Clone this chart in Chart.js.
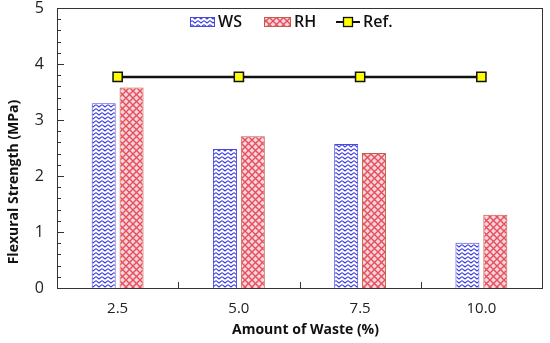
<!DOCTYPE html>
<html>
<head>
<meta charset="utf-8">
<script src="https://cdn.jsdelivr.net/npm/chart.js@4.4.0/dist/chart.umd.min.js"></script>
<style>
  html, body { margin: 0; padding: 0; background: #fff; }
  #wrap { width: 550px; height: 343px; }
</style>
</head>
<body>
<div id="wrap"><canvas id="flexChart" width="550" height="343"></canvas></div>
<script>
// data
const wasteLabels = ['2.5', '5.0', '7.5', '10.0'];
const wsValues = [3.30, 2.48, 2.57, 0.81];
const rhValues = [3.58, 2.71, 2.41, 1.31];
const refValues = [3.77, 3.77, 3.77, 3.77];
const yTicks = [0, 1, 2, 3, 4, 5];

const FONT = '"Open Sans", "Noto Sans", sans-serif';

// hatch patterns
function makeWavePattern() {
    const c = document.createElement('canvas');
    c.width = 6; c.height = 4;
    const g = c.getContext('2d');
    g.fillStyle = '#ffffff';
    g.fillRect(0, 0, 6, 4);
    g.strokeStyle = '#3d3ddc';
    g.lineWidth = 1.2;
    g.beginPath();
    g.moveTo(0, 0.6); g.lineTo(3, 3); g.lineTo(6, 0.6);
    g.stroke();
    return g.createPattern(c, 'repeat');
}
function makeCrossPattern() {
    const c = document.createElement('canvas');
    c.width = 7; c.height = 7;
    const g = c.getContext('2d');
    g.fillStyle = '#ffd3da';
    g.fillRect(0, 0, 7, 7);
    g.strokeStyle = '#e0505f';
    g.lineWidth = 1.4;
    g.beginPath();
    g.moveTo(0, 0); g.lineTo(7, 7);
    g.moveTo(7, 0); g.lineTo(0, 7);
    g.stroke();
    return g.createPattern(c, 'repeat');
}
const wavePattern = makeWavePattern();
const crossPattern = makeCrossPattern();

// frame, inside ticks, titles and legend
const decorations = {
    id: 'decorations',
    afterDraw(chart) {
        const ctx = chart.ctx;
        const a = chart.chartArea;
        const xs = chart.scales.x, ys = chart.scales.y;
        ctx.save();
        ctx.strokeStyle = '#333';
        ctx.lineWidth = 1;
        ctx.strokeRect(a.left + 0.5, a.top + 0.5, a.right - a.left, a.bottom - a.top);

        // y ticks pointing in
        ctx.beginPath();
        for (let v = 0; v <= 5.0001; v += 0.2) {
            const y = Math.round(ys.getPixelForValue(v)) + 0.5;
            const major = Math.abs(v - Math.round(v)) < 0.01;
            ctx.moveTo(a.left, y);
            ctx.lineTo(a.left + (major ? 7 : 4), y);
        }
        // x ticks at category boundaries
        const half = (xs.getPixelForValue(1) - xs.getPixelForValue(0)) / 2;
        for (let i = 0; i < wasteLabels.length - 1; i++) {
            const x = Math.round(xs.getPixelForValue(i) + half) + 0.5;
            ctx.moveTo(x, a.bottom);
            ctx.lineTo(x, a.bottom - 6);
        }
        ctx.stroke();

        // axis titles
        ctx.fillStyle = '#111';
        ctx.font = 'bold 14px ' + FONT;
        ctx.textAlign = 'center';
        ctx.textBaseline = 'middle';
        ctx.fillText('Amount of Waste (%)', (a.left + a.right) / 2 + 6, 330);
        ctx.save();
        ctx.translate(14, 182);
        ctx.rotate(-Math.PI / 2);
        ctx.fillText('Flexural Strength (MPa)', 0, 0);
        ctx.restore();

        // legend
        const ly = 22;
        ctx.font = '600 16px ' + FONT;
        ctx.textAlign = 'left';
        ctx.fillStyle = wavePattern;
        ctx.fillRect(190, 17, 24, 9);
        ctx.lineWidth = 1;
        ctx.strokeStyle = '#4a4ae0';
        ctx.strokeRect(190.5, 17.5, 24, 9);
        ctx.fillStyle = crossPattern;
        ctx.fillRect(264, 17, 26, 9);
        ctx.strokeStyle = '#c0604a';
        ctx.strokeRect(264.5, 17.5, 26, 9);
        ctx.strokeStyle = '#111';
        ctx.lineWidth = 2;
        ctx.beginPath();
        ctx.moveTo(336, ly); ctx.lineTo(360, ly);
        ctx.stroke();
        ctx.fillStyle = '#ffff00';
        ctx.fillRect(343.5, ly - 4.5, 9, 9);
        ctx.lineWidth = 1.3;
        ctx.strokeRect(343.5, ly - 4.5, 9, 9);
        ctx.fillStyle = '#111';
        ctx.fillText('WS', 218, ly);
        ctx.fillText('RH', 294, ly);
        ctx.fillText('Ref.', 363, ly);
        ctx.restore();
    }
};

const ctxFlex = document.getElementById('flexChart').getContext('2d');
new Chart(ctxFlex, {
    type: 'bar',
    data: {
        labels: wasteLabels,
        datasets: [{
            label: 'Ref.',
            type: 'line',
            data: refValues,
            borderColor: '#111',
            borderWidth: 2.5,
            pointStyle: 'rect',
            pointRadius: 6.5,
            pointBackgroundColor: '#ffff00',
            pointBorderColor: '#111',
            pointBorderWidth: 1.5,
            order: 0
        }, {
            label: 'WS',
            data: wsValues,
            backgroundColor: wavePattern,
            borderColor: '#4a4ae0',
            borderWidth: 1,
            order: 1
        }, {
            label: 'RH',
            data: rhValues,
            backgroundColor: crossPattern,
            borderColor: '#c0604a',
            borderWidth: 1,
            order: 1
        }]
    },
    options: {
        responsive: false,
        animation: false,
        layout: { padding: { top: 8, right: 5, left: 0, bottom: 0 } },
        datasets: {
            bar: { categoryPercentage: 0.46, barPercentage: 0.86 }
        },
        plugins: {
            legend: { display: false },
            tooltip: { enabled: false }
        },
        scales: {
            x: {
                grid: { display: false, drawTicks: false },
                border: { display: true, color: '#333' },
                ticks: { color: '#222', padding: 12, font: { family: FONT, size: 15 } },
                afterFit(s) { s.height = 55; s.paddingLeft = 0; s.paddingRight = 0; }
            },
            y: {
                min: 0,
                max: 5,
                afterBuildTicks(s) { s.ticks = yTicks.map(v => ({ value: v })); },
                grid: { display: false, drawTicks: false },
                border: { display: true, color: '#333' },
                ticks: { color: '#222', padding: 13, font: { family: FONT, size: 16 } },
                afterFit(s) { s.width = 57; s.paddingTop = 0; s.paddingBottom = 0; }
            }
        }
    },
    plugins: [decorations]
});
</script>
</body>
</html>
